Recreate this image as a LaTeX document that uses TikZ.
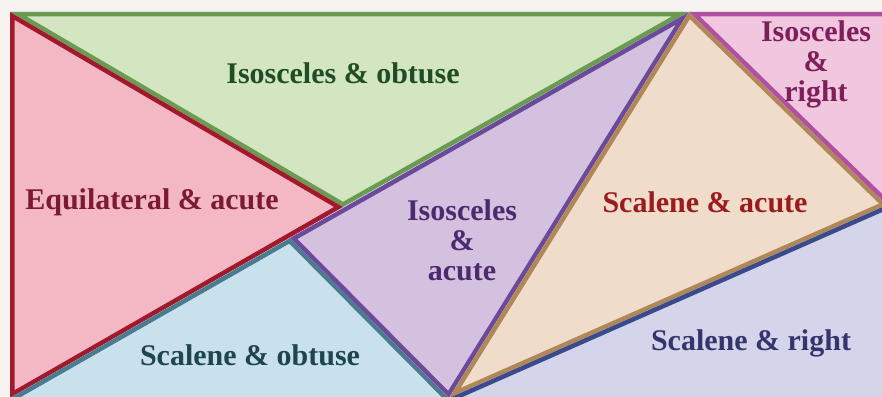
\documentclass[tikz,border=0pt]{standalone}
\usepackage{fontspec}
\setmainfont{Liberation Serif}
\definecolor{bg}{HTML}{F5F2F0}
\definecolor{gfill}{HTML}{D4E5C1}\definecolor{gline}{HTML}{6A9B52}\definecolor{gtext}{HTML}{1F4D24}
\definecolor{rfill}{HTML}{F4B8C4}\definecolor{rline}{HTML}{A0192C}\definecolor{rtext}{HTML}{7B1A33}
\definecolor{bfill}{HTML}{C9E1ED}\definecolor{bline}{HTML}{4A7B8F}\definecolor{btext}{HTML}{1E4550}
\definecolor{pfill}{HTML}{D4C1DF}\definecolor{pline}{HTML}{6B4A9B}\definecolor{ptext}{HTML}{4B2A6E}
\definecolor{tfill}{HTML}{F0DCCB}\definecolor{tline}{HTML}{B08858}\definecolor{ttext}{HTML}{9B1C1C}
\definecolor{kfill}{HTML}{F0C7DF}\definecolor{kline}{HTML}{B050A0}\definecolor{ktext}{HTML}{7E1F5A}
\definecolor{lfill}{HTML}{D4D5EB}\definecolor{lline}{HTML}{3A4A8B}\definecolor{ltext}{HTML}{35356E}
\newcommand{\mytri}[5]{%
  \begin{scope}
    \clip #3 -- #4 -- #5 -- cycle;
    \fill[#1] #3 -- #4 -- #5 -- cycle;
    \draw[#2, line width=9pt, line join=miter] #3 -- #4 -- #5 -- cycle;
  \end{scope}}
\newcommand{\myopen}[5]{%
  \begin{scope}
    \clip #3 -- #4 -- #5 -- cycle;
    \fill[#1] #3 -- #4 -- #5 -- cycle;
    \draw[#2, line width=9pt, line join=miter] #3 -- #4 -- #5;
  \end{scope}}
\tikzset{lbl/.style={font=\bfseries\fontsize{30}{30}\selectfont, align=center, inner sep=0pt}}
\begin{document}
\begin{tikzpicture}[x=1pt, y=-1pt]
\useasboundingbox (0,0) rectangle (882,396);
\fill[bg] (0,0) rectangle (882,396);
\begin{scope}
\clip (0,0) rectangle (882,396);
\coordinate (TL) at (10,12);
\coordinate (P) at (689,12);
\coordinate (G) at (343,207);
\coordinate (RB) at (10,398);
\coordinate (B) at (290,238);
\coordinate (BB) at (449,398);
\coordinate (TR) at (887,205);
\coordinate (KT) at (887,12);
\coordinate (LB) at (887,400);
\mytri{gfill}{gline}{(TL)}{(P)}{(G)}
\mytri{rfill}{rline}{(TL)}{(G)}{(RB)}
\myopen{bfill}{bline}{(RB)}{(B)}{(BB)}
\mytri{pfill}{pline}{(P)}{(B)}{(BB)}
\mytri{tfill}{tline}{(P)}{(TR)}{(BB)}
\mytri{kfill}{kline}{(P)}{(KT)}{(TR)}
\myopen{lfill}{lline}{(BB)}{(TR)}{(LB)}
\end{scope}
\node[lbl, text=gtext] (n1) at (343,73) {Isosceles \& obtuse};
\node[lbl, text=rtext] (n2) at (152,202) {Equilateral \& acute};
\node[lbl, text=ptext] (n3) at (462,240) {Isosceles\\\&\\acute};
\node[lbl, text=ttext] (n4) at (705,202) {Scalene \& acute};
\node[lbl, text=ktext] (n5) at (816,64) {Isosceles\\\&\\right};
\node[lbl, text=btext] (n6) at (250,355) {Scalene \& obtuse};
\node[lbl, text=ltext] (n7) at (751,343) {Scalene \& right};
\end{tikzpicture}
\end{document}
